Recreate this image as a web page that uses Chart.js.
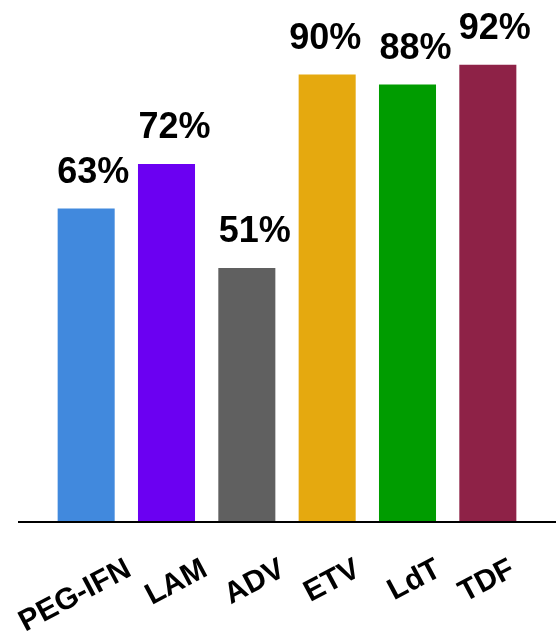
<!DOCTYPE html>
<html>
<head>
<meta charset="utf-8">
<script src="https://cdn.jsdelivr.net/npm/chart.js@4"></script>
<style>
  html, body { margin: 0; padding: 0; background: #fff; }
  .chart-container { position: relative; width: 556px; height: 639px; }
</style>
</head>
<body>
<div class="chart-container"><canvas id="barChart"></canvas></div>
<script>
// Treatment labels and response rates (%)
const drugs = ['PEG-IFN', 'LAM', 'ADV', 'ETV', 'LdT', 'TDF'];
const rates = [63, 72, 51, 90, 88, 92];
const barColors = ['#4189DD', '#6B00F2', '#606060', '#E5A90F', '#009C00', '#8E2247'];

// small horizontal nudges for the slanted names and the percent labels (px)
const nameNudge = [-11, 10, 8, 5, 7, -1];
const valueNudge = [7, 8, 8, -2, 8, 7];

const FONT = '"Liberation Sans", Arial, Helvetica, sans-serif';

// Percent labels above each bar
const valueLabels = {
    id: 'valueLabels',
    afterDatasetsDraw(chart) {
        const ctx = chart.ctx;
        const meta = chart.getDatasetMeta(0);
        ctx.save();
        ctx.font = 'bold 36px ' + FONT;
        ctx.fillStyle = '#000';
        ctx.textAlign = 'center';
        ctx.textBaseline = 'alphabetic';
        meta.data.forEach((bar, i) => {
            ctx.fillText(rates[i] + '%', bar.x + valueNudge[i], bar.y - 26);
        });
        ctx.restore();
    }
};

// Baseline and slanted category names under the bars
const categoryAxis = {
    id: 'categoryAxis',
    afterDraw(chart) {
        const ctx = chart.ctx;
        const xScale = chart.scales.x;
        const y0 = chart.scales.y.getPixelForValue(0);
        ctx.save();
        ctx.strokeStyle = '#000';
        ctx.lineWidth = 2;
        ctx.beginPath();
        ctx.moveTo(18, y0 + 1);
        ctx.lineTo(chart.width, y0 + 1);
        ctx.stroke();

        const angle = -28 * Math.PI / 180;
        ctx.font = 'bold 30px ' + FONT;
        ctx.fillStyle = '#000';
        ctx.textAlign = 'center';
        ctx.textBaseline = 'middle';
        const h = 21.5;
        drugs.forEach((name, i) => {
            const w = ctx.measureText(name).width;
            const cx = xScale.getPixelForValue(i) + nameNudge[i];
            const cy = y0 + 37 + (w / 2) * Math.sin(-angle) + (h / 2) * Math.cos(angle);
            ctx.save();
            ctx.translate(cx, cy);
            ctx.rotate(angle);
            ctx.fillText(name, 0, 0);
            ctx.restore();
        });
        ctx.restore();
    }
};

const ctx = document.getElementById('barChart').getContext('2d');
new Chart(ctx, {
    type: 'bar',
    data: {
        labels: drugs,
        datasets: [{
            data: rates,
            backgroundColor: barColors,
            borderWidth: 0,
            categoryPercentage: 1,
            barPercentage: 0.71
        }]
    },
    options: {
        responsive: true,
        maintainAspectRatio: false,
        animation: false,
        layout: { padding: { top: 25, bottom: 118, left: 46, right: 28 } },
        scales: {
            x: { display: false },
            y: { display: false, min: 0, max: 100 }
        },
        plugins: {
            legend: { display: false },
            tooltip: { enabled: false }
        }
    },
    plugins: [valueLabels, categoryAxis]
});
</script>
</body>
</html>
